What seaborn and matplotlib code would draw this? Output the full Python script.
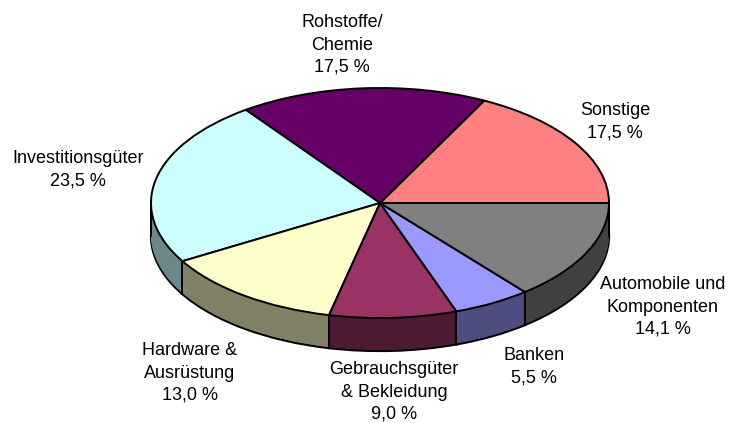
import numpy as np
import matplotlib
matplotlib.use('Agg')
import matplotlib.pyplot as plt
import seaborn as sns

#------------------------------------------
l_name=['Sonstige', 'Rohstoffe/\nChemie', 'Investitionsgüter', 'Hardware &\nAusrüstung',
        'Gebrauchsgüter\n& Bekleidung', 'Banken', 'Automobile und\nKomponenten']
l_val=[17.5, 17.5, 23.5, 13.0, 9.0, 5.5, 14.1]
l_top=['#FF8080', '#660066', '#CCFFFF', '#FFFFCC', '#993366', '#9999FF', '#808080']
l_side=['#804040', '#330033', '#6A8888', '#808066', '#4D1A33', '#4D4D80', '#404040']
l_pos=[(615, 122), (342, 45), (78, 170), (190, 373), (394, 392), (534, 367), (663, 307)]

w, h=730, 423
cx, cy=380, 203   #pie centre, px
rx, ry=229, 115   #ellipse radii, px
depth=33          #side height, px

#------------------------------------------
sns.set_theme(style='white')
plt.rcParams['font.family']=['Liberation Sans', 'DejaVu Sans']

fig, ax=plt.subplots(figsize=(w/100, h/100), dpi=100)
ax.set_position([0, 0, 1, 1])

#side of the disc, stacked from bottom to top
pal_side=sns.color_palette(l_side)
pal_top=sns.color_palette(l_top)
d=depth/ry
ax.pie(l_val, colors=pal_side, startangle=0, center=(0, -d),
       wedgeprops={'edgecolor': 'black', 'linewidth': 1.6})
for off in np.arange(depth-1, 0, -1):
    ax.pie(l_val, colors=pal_side, startangle=0, center=(0, -off/ry),
           wedgeprops={'edgecolor': 'none', 'linewidth': 0})

#top of the disc
ax.pie(l_val, colors=pal_top, startangle=0,
       wedgeprops={'edgecolor': 'black', 'linewidth': 1.4})

#vertical seams on the front side
ang=np.cumsum(l_val)/np.sum(l_val)*2*np.pi
for a in ang:
    if np.sin(a)<0:
        ax.plot([np.cos(a)]*2, [np.sin(a), np.sin(a)-d], color='black', lw=1.4)
for x in [-1, 1]:
    ax.plot([x, x], [0, -d], color='black', lw=1.4)

ax.set_aspect('auto')
ax.set_xlim(-cx/rx, (w-cx)/rx)
ax.set_ylim(-(h-cy)/ry, cy/ry)
ax.axis('off')

#labels
for name, val, (x, y) in zip(l_name, l_val, l_pos):
    txt=f'{name}\n{val:.1f} %'.replace('.', ',')
    fig.text(x/w, 1-y/h, txt, ha='center', va='center', fontsize=13,
             linespacing=1.42, color='black')

plt.savefig('out.png', dpi=100)
plt.close()
